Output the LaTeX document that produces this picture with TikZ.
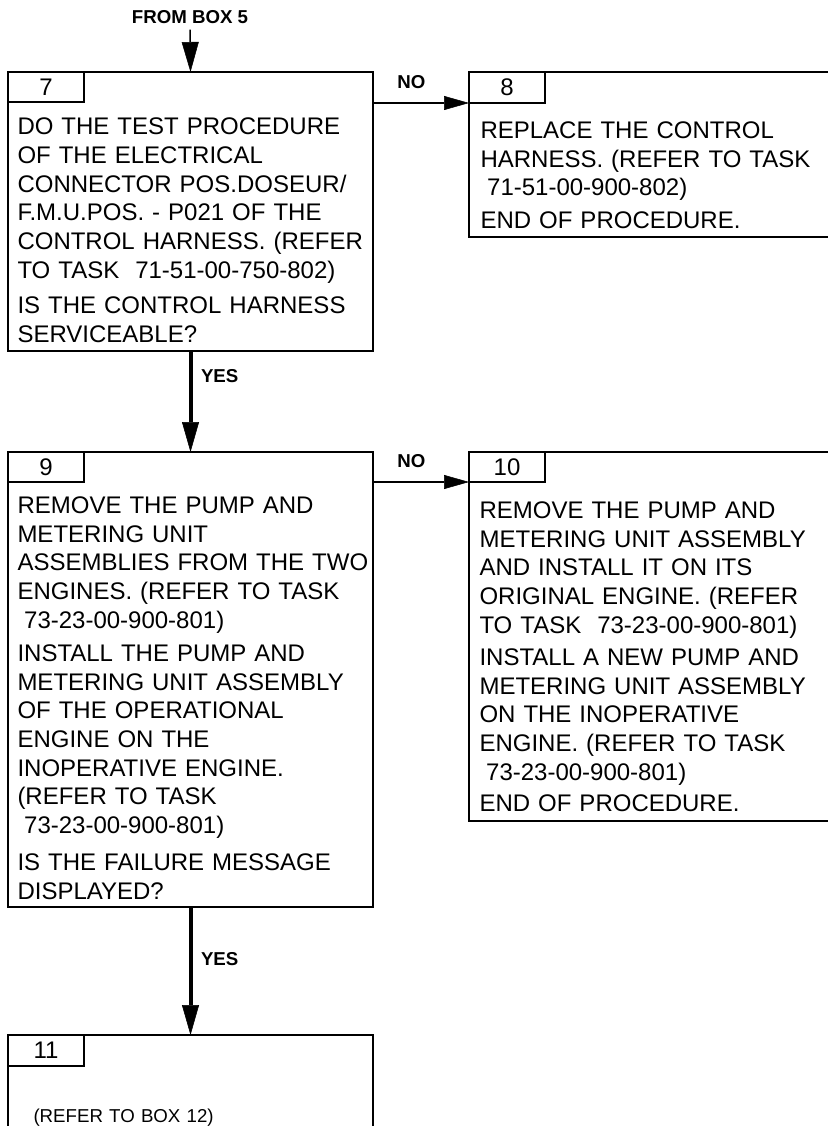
\documentclass[tikz,border=0pt]{standalone}
\usepackage{fontspec}
\setmainfont{Liberation Sans}
\usetikzlibrary{arrows.meta,positioning}

\tikzset{every picture/.style={line width=0.75pt}}
\tikzset{
  wh/.style 2 args={minimum width=#1*0.75pt, minimum height=#2*0.75pt},
  box/.style={draw, rectangle, line width=1.6pt, inner sep=0pt, outer sep=0pt, anchor=north west},
  body/.style={anchor=base west, inner sep=0pt, align=left, text width=300pt, font=\fontsize{18}{21.5}\selectfont},
  num/.style={inner sep=0pt, font=\fontsize{18}{21.5}\selectfont},
  lbl/.style={inner sep=0pt, font=\bfseries\fontsize{14}{16}\selectfont},
  thin arrow/.style={line width=1.2pt, -{Triangle[length=18.75pt,width=10.5pt,line width=0.4pt]}},
  thick arrow/.style={line width=3pt, -{Triangle[length=22.5pt,width=12.75pt,line width=0.4pt]}}
}
\newcommand{\lead}{\hspace*{5pt}}

\begin{document}
\begin{tikzpicture}[x=0.75pt,y=0.75pt,yscale=-1,xscale=1]
\useasboundingbox (0,0) rectangle (827,1126);

% Text Node
\node [lbl, outer sep=4.5pt] (from5) at (190,17) {FROM BOX 5};

%Shape: Rectangle [box 7]
\node [box, wh={365}{279}] (b7) at (8,72) {};
\node [box, wh={76}{30}] (t7) at (8,72) {};
\node [num] (n7) at (t7.center) {7};
% Text Node
\node [body] (p7a) at (17,135) {DO THE TEST PROCEDURE\\OF THE ELECTRICAL\\CONNECTOR POS.DOSEUR/\\F.M.U.POS. - P021 OF THE\\CONTROL HARNESS. (REFER\\TO TASK \ 71-51-00-750-802)};
\node [body] (p7b) at (17,313.6) {IS THE CONTROL HARNESS\\SERVICEABLE?};

%Shape: Rectangle [box 8]
\node [box, wh={371}{165}] (b8) at (469,72) {};
\node [box, wh={76}{31}] (t8) at (469,72) {};
\node [num] (n8) at (t8.center) {8};
% Text Node
\node [body] (p8a) at (480,138.6) {REPLACE THE CONTROL\\HARNESS. (REFER TO TASK\\\lead 71-51-00-900-802)};
\node [body] (p8b) at (480,228.6) {END OF PROCEDURE.};

%Shape: Rectangle [box 9]
\node [box, wh={365}{455}] (b9) at (8,452) {};
\node [box, wh={76}{30}] (t9) at (8,452) {};
\node [num] (n9) at (t9.center) {9};
% Text Node
\node [body] (p9a) at (17,513.6) {REMOVE THE PUMP AND\\METERING UNIT\\ASSEMBLIES FROM THE TWO\\ENGINES. (REFER TO TASK\\\lead 73-23-00-900-801)};
\node [body] (p9b) at (17,661.6) {INSTALL THE PUMP AND\\METERING UNIT ASSEMBLY\\OF THE OPERATIONAL\\ENGINE ON THE\\INOPERATIVE ENGINE.\\(REFER TO TASK\\\lead 73-23-00-900-801)};
\node [body] (p9c) at (17,870.6) {IS THE FAILURE MESSAGE\\DISPLAYED?};

%Shape: Rectangle [box 10]
\node [box, wh={371}{369}] (b10) at (469,452) {};
\node [box, wh={76}{30}] (t10) at (469,452) {};
\node [num] (n10) at (t10.center) {10};
% Text Node
\node [body] (p10a) at (479,518.6) {REMOVE THE PUMP AND\\METERING UNIT ASSEMBLY\\AND INSTALL IT ON ITS\\ORIGINAL ENGINE. (REFER\\TO TASK \ 73-23-00-900-801)};
\node [body] (p10b) at (479,665.6) {INSTALL A NEW PUMP AND\\METERING UNIT ASSEMBLY\\ON THE INOPERATIVE\\ENGINE. (REFER TO TASK\\\lead 73-23-00-900-801)};
\node [body] (p10c) at (479,811.6) {END OF PROCEDURE.};

%Shape: Rectangle [box 11]
\node [box, wh={365}{105}] (b11) at (8,1035) {};
\node [box, wh={76}{31}] (t11) at (8,1035) {};
\node [num] (n11) at (t11.center) {11};
% Text Node
\node [body, font=\fontsize{14}{16}\selectfont] (p11) at (33,1122.6) {(REFER TO BOX 12)};

%Straight Lines [connectors]
\draw [thick arrow, line width=1.1pt] (from5) -- (b7.north);
\draw [thin arrow] (t8.south west -| b7.east) -- (t8.south west) node [lbl, pos=0.4, above=10pt] (no8) {NO};
\draw [thick arrow] (b7.south) -- (b9.north) node [lbl, pos=0.25, right=6.4pt] (yes9) {YES};
\draw [thin arrow] (t10.south west -| b9.east) -- (t10.south west) node [lbl, pos=0.4, above=10pt] (no10) {NO};
\draw [thick arrow] (b9.south) -- (b11.north) node [lbl, pos=0.41, right=6.4pt] (yes11) {YES};

\end{tikzpicture}
\end{document}
